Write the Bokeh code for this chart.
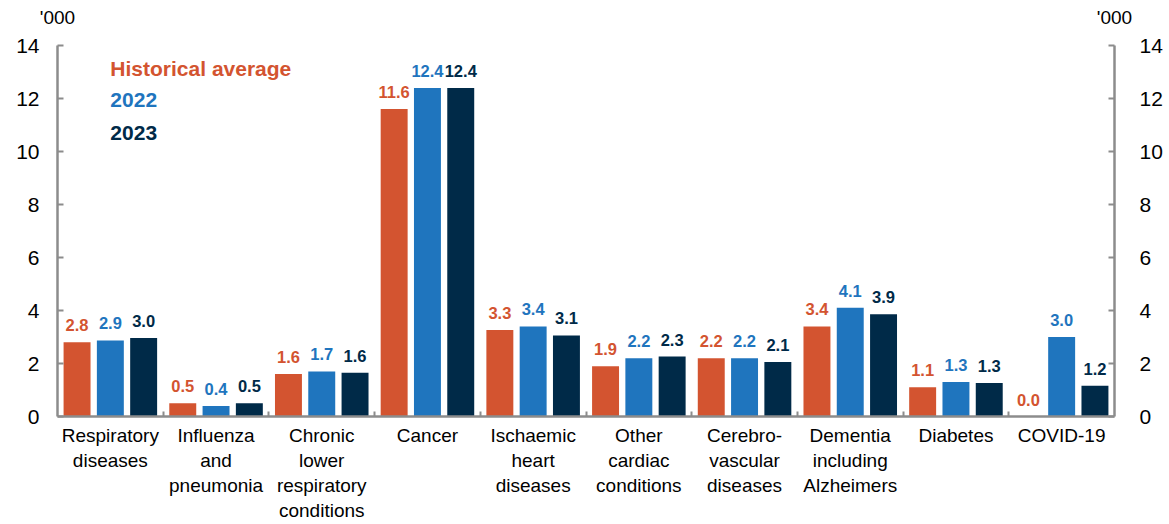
from bokeh.plotting import figure
from bokeh.models import ColumnDataSource, LinearAxis, FixedTicker, Label, Range1d
from bokeh.core.properties import value
from bokeh.transform import dodge
from bokeh.embed import file_html
from bokeh.resources import INLINE

categories = ["Respiratory\ndiseases", "Influenza\nand\npneumonia",
              "Chronic\nlower\nrespiratory\nconditions", "Cancer",
              "Ischaemic\nheart\ndiseases", "Other\ncardiac\nconditions",
              "Cerebro-\nvascular\ndiseases", "Dementia\nincluding\nAlzheimers",
              "Diabetes", "COVID-19"]
hist_avg = [2.8, 0.5, 1.6, 11.6, 3.26, 1.9, 2.2, 3.4, 1.1, 0.0]
y2022 = [2.87, 0.4, 1.7, 12.4, 3.4, 2.2, 2.2, 4.1, 1.3, 3.0]
y2023 = [2.96, 0.5, 1.65, 12.4, 3.06, 2.26, 2.06, 3.86, 1.26, 1.16]
series_names = ["Historical average", "2022", "2023"]
colors = ["#D35430", "#1F75BE", "#002A48"]
y_ticks = [0, 2, 4, 6, 8, 10, 12, 14]
unit_label = "'000"

FONT = "Liberation Sans"
AXIS_COLOR = "#8C8C8C"

n = len(categories)
xs = [i + 0.5 for i in range(n)]
src = ColumnDataSource(dict(
    x=xs,
    h=hist_avg, a=y2022, b=y2023,
    hl=[f"{v:.1f}" for v in hist_avg],
    al=[f"{v:.1f}" for v in y2022],
    bl=[f"{v:.1f}" for v in y2023],
))

p = figure(width=1166, height=524, output_backend="svg", toolbar_location=None,
           x_range=Range1d(0, n), y_range=Range1d(0, 14),
           min_border_left=57, min_border_right=52, min_border_top=45,
           min_border_bottom=100)
p.outline_line_color = None
p.xgrid.grid_line_color = None
p.ygrid.grid_line_color = None
p.background_fill_color = "white"

offsets = [-0.315, 0.0, 0.315]
fields = ["h", "a", "b"]
lab_fields = ["hl", "al", "bl"]
for off, f, lf, c in zip(offsets, fields, lab_fields, colors):
    p.vbar(x=dodge("x", off), top=f, width=0.255, source=src,
           fill_color=c, line_color=None)
    p.text(x=dodge("x", off), y=f, text=lf, source=src, text_color=c,
           text_align="center", text_baseline="bottom", y_offset=-11,
           text_font=value(FONT), text_font_size="16.5px", text_font_style="bold")

# bottom axis
xa = p.xaxis[0]
xa.ticker = FixedTicker(ticks=xs, minor_ticks=list(range(1, n)))
xa.major_label_overrides = {x: c for x, c in zip(xs, categories)}
xa.major_tick_in = 0
xa.major_tick_out = 0
xa.minor_tick_in = 5
xa.minor_tick_out = 0
xa.minor_tick_line_color = AXIS_COLOR
xa.minor_tick_line_width = 2
xa.axis_line_color = AXIS_COLOR
xa.axis_line_width = 2.5
xa.major_label_standoff = 8
xa.major_label_text_font = FONT
xa.major_label_text_font_size = "19px"
xa.major_label_text_line_height = 1.2
xa.major_label_text_color = "black"

# top "axis" carrying the unit labels above the two value axes
ta = LinearAxis(ticker=FixedTicker(ticks=[0, n]),
                major_label_overrides={0: unit_label, n: unit_label})
ta.axis_line_color = None
ta.major_tick_line_color = None
ta.minor_tick_line_color = None
ta.major_label_standoff = 12
ta.major_label_text_font = FONT
ta.major_label_text_font_size = "19px"
ta.major_label_text_color = "black"
p.add_layout(ta, "above")

ya = p.yaxis[0]
ra = LinearAxis()
p.add_layout(ra, "right")
for ax, so in ((ya, 18), (ra, 25)):
    ax.ticker = FixedTicker(ticks=y_ticks)
    ax.minor_tick_line_color = None
    ax.major_tick_in = 6
    ax.major_tick_out = 0
    ax.major_tick_line_color = AXIS_COLOR
    ax.major_tick_line_width = 2
    ax.axis_line_color = AXIS_COLOR
    ax.axis_line_width = 2.5
    ax.major_label_standoff = so
    ax.major_label_text_font = FONT
    ax.major_label_text_font_size = "21px"
    ax.major_label_text_color = "black"

# legend as coloured text
for name, c, yv in zip(series_names, colors, [13.14, 11.94, 10.7]):
    p.add_layout(Label(x=0.5, y=yv, text=name, text_align="left",
                       text_baseline="middle", text_font=FONT,
                       text_font_size="21px", text_font_style="bold",
                       text_color=c))

open("out.html", "w").write(file_html(p, INLINE))
